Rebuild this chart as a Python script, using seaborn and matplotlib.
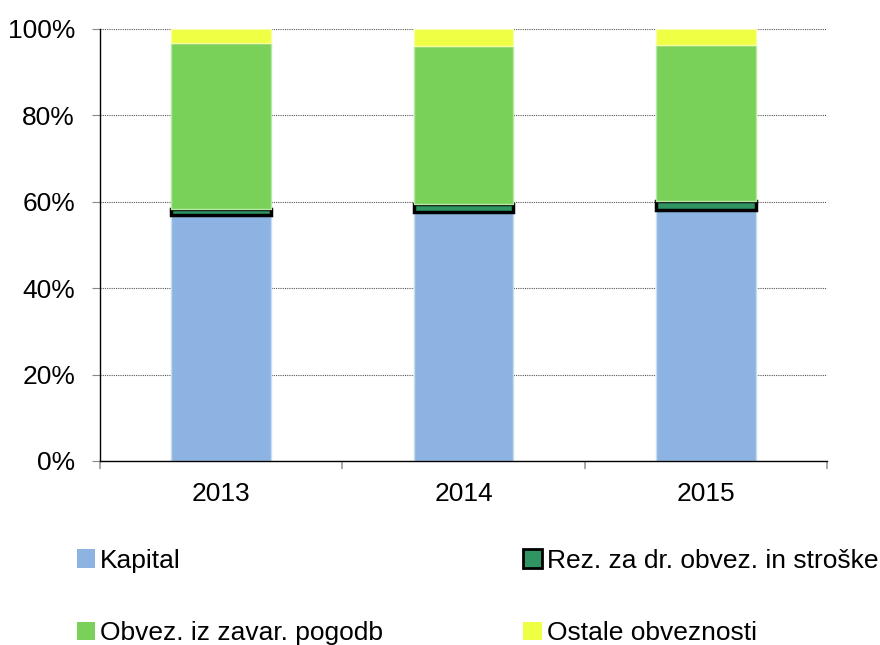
import matplotlib
matplotlib.use("Agg")
import matplotlib.pyplot as plt
import seaborn as sns
import pandas as pd
from matplotlib.ticker import PercentFormatter
from matplotlib.patches import Patch

years = ["2013", "2014", "2015"]
kapital = [56.9, 57.6, 58.1]
rez = [1.4, 1.9, 2.2]
obvez = [38.4, 36.6, 36.1]
ostale = [3.3, 3.9, 3.6]

series_names = ["Kapital", "Rez. za dr. obvez. in stroške", "Obvez. iz zavar. pogodb", "Ostale obveznosti"]
series_vals = [kapital, rez, obvez, ostale]
colors = ["#8DB3E2", "#2E9563", "#7AD15A", "#EEFF44"]
edges = ["#C9DCF2", "black", "#B5E8A3", "#F6FFA0"]
lws = [1.0, 2.5, 1.0, 1.0]

sns.set_theme(style="white")
plt.rcParams["font.family"] = ["Liberation Sans", "DejaVu Sans"]
plt.rcParams["text.color"] = "black"

FS = 19

fig = plt.figure(figsize=(8.8, 6.45), dpi=100)
ax = fig.add_axes([100/880, 1 - 461/645, 727/880, 432/645])

bottoms = [0.0] * len(years)
for name, vals, c, ec, lw in zip(series_names, series_vals, colors, edges, lws):
    df = pd.DataFrame({"year": years, "val": vals})
    n_before = len(ax.patches)
    sns.barplot(data=df, x="year", y="val", color=c, width=0.41, ax=ax,
                edgecolor=ec, linewidth=lw, saturation=1, errorbar=None)
    new = ax.patches[n_before:]
    for p, b in zip(new, bottoms):
        p.set_y(b)
    bottoms = [b + v for b, v in zip(bottoms, vals)]

ax.set_ylim(0, 100)
ax.set_xlim(-0.5, 2.5)
ax.set_yticks([0, 20, 40, 60, 80, 100])
ax.yaxis.set_major_formatter(PercentFormatter(decimals=0))
ax.set_xlabel("")
ax.set_ylabel("")
ax.grid(axis="y", color="#555555", linestyle=(0, (1, 1)), linewidth=0.8)
ax.set_axisbelow(True)
for s in ["top", "right"]:
    ax.spines[s].set_visible(False)
for s in ["left", "bottom"]:
    ax.spines[s].set_color("black")
    ax.spines[s].set_linewidth(1.0)
ax.set_xticks([0, 1, 2])
ax.set_xticklabels(years)
ax.set_xticks([-0.5, 0.5, 1.5, 2.5], minor=True)
ax.tick_params(axis="x", which="major", length=0, labelsize=FS, pad=15, labelcolor="black")
ax.tick_params(axis="x", which="minor", length=6, width=1.2, color="#999999", direction="out", bottom=True)
ax.tick_params(axis="y", which="major", length=6, width=0.8, color="#888888", labelsize=FS, pad=12, left=True, labelcolor="black")

handles = [Patch(facecolor=c, edgecolor=("black" if i == 1 else c), linewidth=(2.0 if i == 1 else 0))
           for i, c in enumerate(colors)]
order = [0, 2, 1, 3]
fig.legend([handles[i] for i in order], [series_names[i] for i in order],
           ncol=2, loc="upper left", bbox_to_anchor=(66/880, 1 - 538/645),
           frameon=False, fontsize=FS, handlelength=0.7, handleheight=0.7,
           handletextpad=0.2, labelspacing=1.85, columnspacing=5.3, borderaxespad=0)

fig.savefig("out.png", dpi=100)
